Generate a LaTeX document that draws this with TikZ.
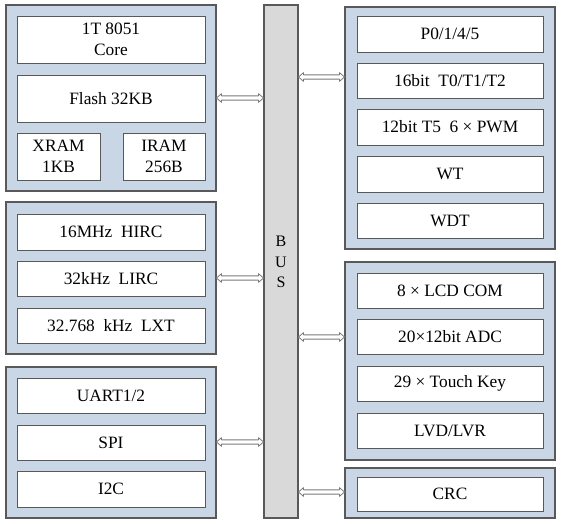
\documentclass[tikz,border=0pt]{standalone}
\usepackage{fontspec}
\setmainfont{Liberation Serif}
\usetikzlibrary{calc}
\definecolor{grpfill}{HTML}{C9D6E6}
\definecolor{edge}{HTML}{595959}
\definecolor{busfill}{HTML}{D9D9D9}
\tikzset{
  grp/.style={draw=edge, fill=grpfill, line width=0.8pt, inner sep=0pt},
  cell/.style={draw=edge, fill=white, line width=0.7pt, inner sep=0pt, align=center,
    font=\fontsize{13}{16}\selectfont},
  busbox/.style={draw=edge, fill=busfill, line width=0.8pt, inner sep=0pt},
  barrow/.style={draw=edge!80, fill=white, line width=0.6pt, line join=round}
}
\newcommand\bx[7]{\node[#1, minimum width={(#5-#3)*0.75pt}, minimum height={(#6-#4)*0.75pt}] (#2) at ({(#3+#5)/2},{(#4+#6)/2}) {#7};}
\newcommand\busarrow[2]{\path[barrow] let \p1=(#1), \p2=(#2) in
  (\x1,\y1) -- (\x1+3.75pt,\y1+3.3pt) -- (\x1+3.75pt,\y1+1.6pt) -- (\x2-3.75pt,\y1+1.6pt)
  -- (\x2-3.75pt,\y1+3.3pt) -- (\x2,\y1) -- (\x2-3.75pt,\y1-3.3pt) -- (\x2-3.75pt,\y1-1.6pt)
  -- (\x1+3.75pt,\y1-1.6pt) -- (\x1+3.75pt,\y1-3.3pt) -- cycle;}
\begin{document}
\begin{tikzpicture}[x=0.75pt,y=-0.75pt]
\useasboundingbox (0,0) rectangle (565,524);
% bus
\bx{busbox}{bus}{264}{5}{298}{518}{}
\node[font=\fontsize{12}{15.4}\selectfont, align=center, inner sep=0pt] (bustxt) at (281,262) {B\\U\\S};
% left group 1
\bx{grp}{g1}{6}{5}{216}{191}{}
\bx{cell}{core}{17}{16}{205}{63}{1T 8051\\Core}
\bx{cell}{flash}{17}{75}{205}{122}{Flash 32KB}
\bx{cell}{xram}{17}{133}{100}{180}{XRAM\\1KB}
\bx{cell}{iram}{123}{133}{205}{180}{IRAM\\256B}
% left group 2
\bx{grp}{g2}{6}{202}{216}{354}{}
\bx{cell}{hirc}{17}{214}{205}{250}{16MHz\ \ HIRC}
\bx{cell}{lirc}{17}{261}{205}{296}{32kHz\ \ LIRC}
\bx{cell}{lxt}{17}{308}{205}{343}{32.768\ \ kHz\ \ LXT}
% left group 3
\bx{grp}{g3}{6}{367}{216}{518}{}
\bx{cell}{uart}{17}{378}{205}{413}{UART1/2}
\bx{cell}{spi}{17}{425}{205}{460}{SPI}
\bx{cell}{iic}{17}{471}{205}{507}{I2C}
% right group 1
\bx{grp}{g4}{345}{7}{555}{249}{}
\bx{cell}{port}{357}{16}{543}{52}{P0/1/4/5}
\bx{cell}{tmr}{357}{63}{543}{98}{16bit\ \ T0/T1/T2}
\bx{cell}{pwm}{357}{109}{543}{145}{12bit T5\ \ 6 × PWM}
\bx{cell}{wt}{357}{156}{543}{192}{WT}
\bx{cell}{wdt}{357}{203}{543}{238}{WDT}
% right group 2
\bx{grp}{g5}{345}{262}{555}{460}{}
\bx{cell}{lcd}{357}{273}{543}{308}{8 × LCD COM}
\bx{cell}{adc}{357}{319}{543}{354}{20×12bit ADC}
\bx{cell}{tk}{357}{366}{543}{401}{29 × Touch Key}
\bx{cell}{lvd}{357}{413}{543}{448}{LVD/LVR}
% right group 3
\bx{grp}{g6}{345}{468}{555}{518}{}
\bx{cell}{crc}{357}{477}{543}{511}{CRC}
% connectors
\busarrow{g1.east |- 0,98}{bus.west |- 0,98}
\busarrow{g2.east |- 0,278}{bus.west |- 0,278}
\busarrow{g3.east |- 0,442}{bus.west |- 0,442}
\busarrow{bus.east |- 0,77}{g4.west |- 0,77}
\busarrow{bus.east |- 0,337}{g5.west |- 0,337}
\busarrow{bus.east |- 0,492}{g6.west |- 0,492}
\end{tikzpicture}
\end{document}
